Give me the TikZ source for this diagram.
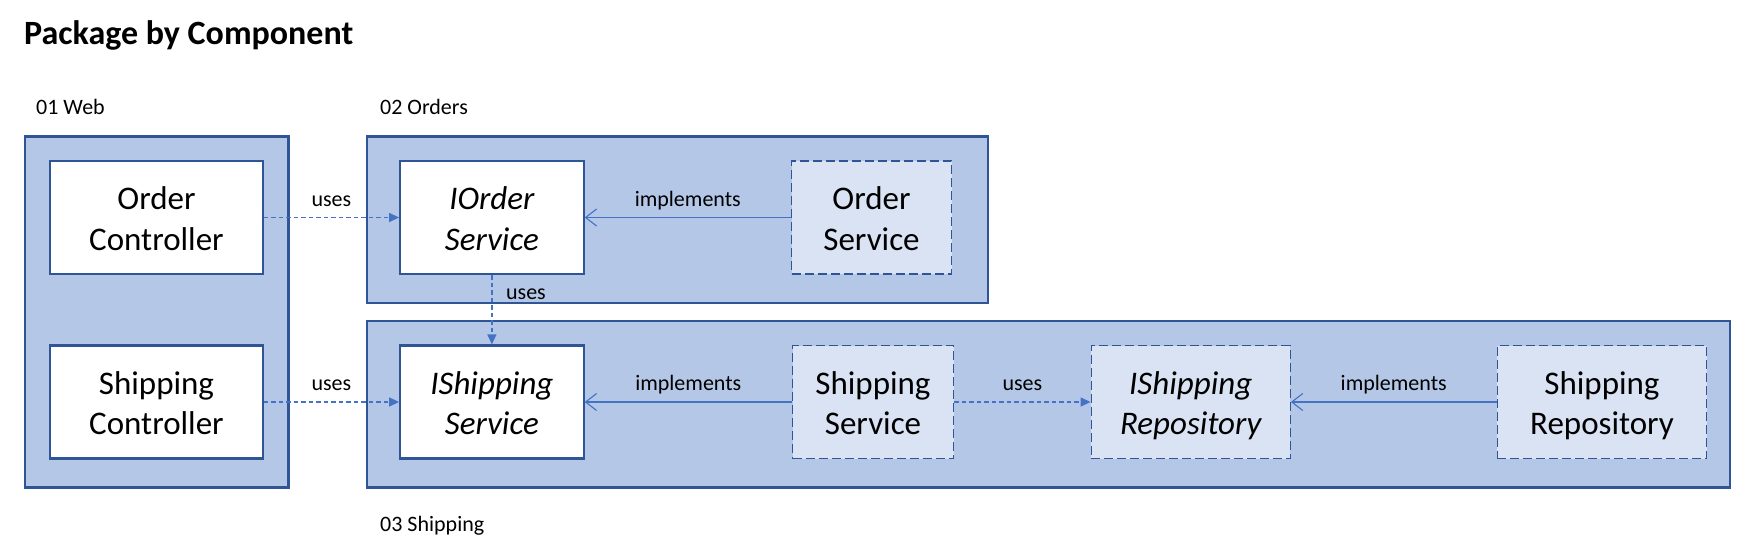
\documentclass[tikz,border=0pt]{standalone}
\usepackage{fontspec}
\setmainfont{Carlito}
\usetikzlibrary{arrows.meta,calc}
\definecolor{pkgfill}{HTML}{B4C7E7}
\definecolor{pkgline}{HTML}{2F5597}
\definecolor{implfill}{HTML}{DAE3F3}
\definecolor{conn}{HTML}{4472C4}
\tikzset{
  pkg/.style={draw=pkgline, fill=pkgfill, line width=2.2pt, inner sep=0pt},
  comp/.style={draw=pkgline, line width=2.2pt, align=center, inner sep=0pt,
    font=\fontsize{33pt}{40.5pt}\selectfont, text height=65pt, text depth=0pt},
  iface/.style={comp, fill=white, font=\fontsize{33pt}{40.5pt}\selectfont\itshape},
  plain/.style={comp, fill=white},
  impl/.style={comp, fill=implfill, line width=1.3pt, dash pattern=on 9pt off 4pt},
  lbl/.style={inner sep=0pt, font=\fontsize{22pt}{26pt}\selectfont},
  uses/.style={draw=conn, line width=1.3pt, dash pattern=on 4.5pt off 3pt,
    -{Triangle[length=10pt,width=9pt]}},
  implements/.style={draw=conn, line width=1.3pt,
    -{Straight Barb[length=11pt,width=17pt,line width=1.1pt]}},
}
\begin{document}
\begin{tikzpicture}[x=1pt,y=-1pt]
\useasboundingbox (0,0) rectangle (1753,559);
\fill[white] (0,0) rectangle (1753,559);

% titles
\node[lbl, anchor=base west, font=\fontsize{34pt}{40pt}\selectfont\bfseries] (title) at (24,45) {Package by Component};
\node[lbl, anchor=base west] (webt) at (36,115) {01 Web};
\node[lbl, anchor=base west] (ordt) at (380,115) {02 Orders};
\node[lbl, anchor=base west] (shpt) at (380,531) {03 Shipping};

% packages
\node[pkg, minimum width=263.8pt, minimum height=351pt] (web) at (156.5,312) {};
\node[pkg, minimum width=621.6pt, minimum height=166.5pt] (orders) at (677.5,219.75) {};
\node[pkg, minimum width=1363.3pt, minimum height=166.6pt] (shipping) at (1048.35,404.2) {};

% components
\node[plain, minimum width=212.4pt, minimum height=113pt] (oc) at (156.5,217.5) {Order\\Controller};
\node[plain, minimum width=212.4pt, minimum height=113pt] (sc) at (156.5,402) {Shipping\\Controller};
\node[iface, minimum width=183.4pt, minimum height=113pt] (ios) at (491.9,217.5) {IOrder\\Service};
\node[impl, minimum width=160pt, minimum height=113pt] (os) at (871.5,217.5) {Order\\Service};
\node[iface, minimum width=183.4pt, minimum height=113pt] (iss) at (491.9,402) {IShipping\\Service};
\node[impl, minimum width=161pt, minimum height=113pt] (ss) at (873,402) {Shipping\\Service};
\node[impl, font=\fontsize{33pt}{40.5pt}\selectfont\itshape, minimum width=199pt, minimum height=113pt] (isr) at (1190.7,402) {IShipping\\Repository};
\node[impl, minimum width=209.5pt, minimum height=113pt] (sr) at (1602,402) {Shipping\\Repository};

% connectors
\draw[uses] (oc.east) -- node[lbl, midway, anchor=base, yshift=11.5pt] (u1) {uses} (ios.west);
\draw[uses] (sc.east) -- node[lbl, midway, anchor=base, yshift=11.5pt] (u2) {uses} (iss.west);
\draw[uses] (ios.south) -- (iss.north);
\node[lbl, anchor=base west] (u3) at ($(ios.south)+(14,24)$) {uses};
\draw[uses] (ss.east) -- node[lbl, midway, anchor=base, yshift=11.5pt] (u4) {uses} (isr.west);
\draw[implements] (os.west) -- node[lbl, midway, anchor=base, yshift=11.5pt] (i1) {implements} (ios.east);
\draw[implements] (ss.west) -- node[lbl, midway, anchor=base, yshift=11.5pt] (i2) {implements} (iss.east);
\draw[implements] (sr.west) -- node[lbl, midway, anchor=base, yshift=11.5pt] (i3) {implements} (isr.east);
\end{tikzpicture}
\end{document}
